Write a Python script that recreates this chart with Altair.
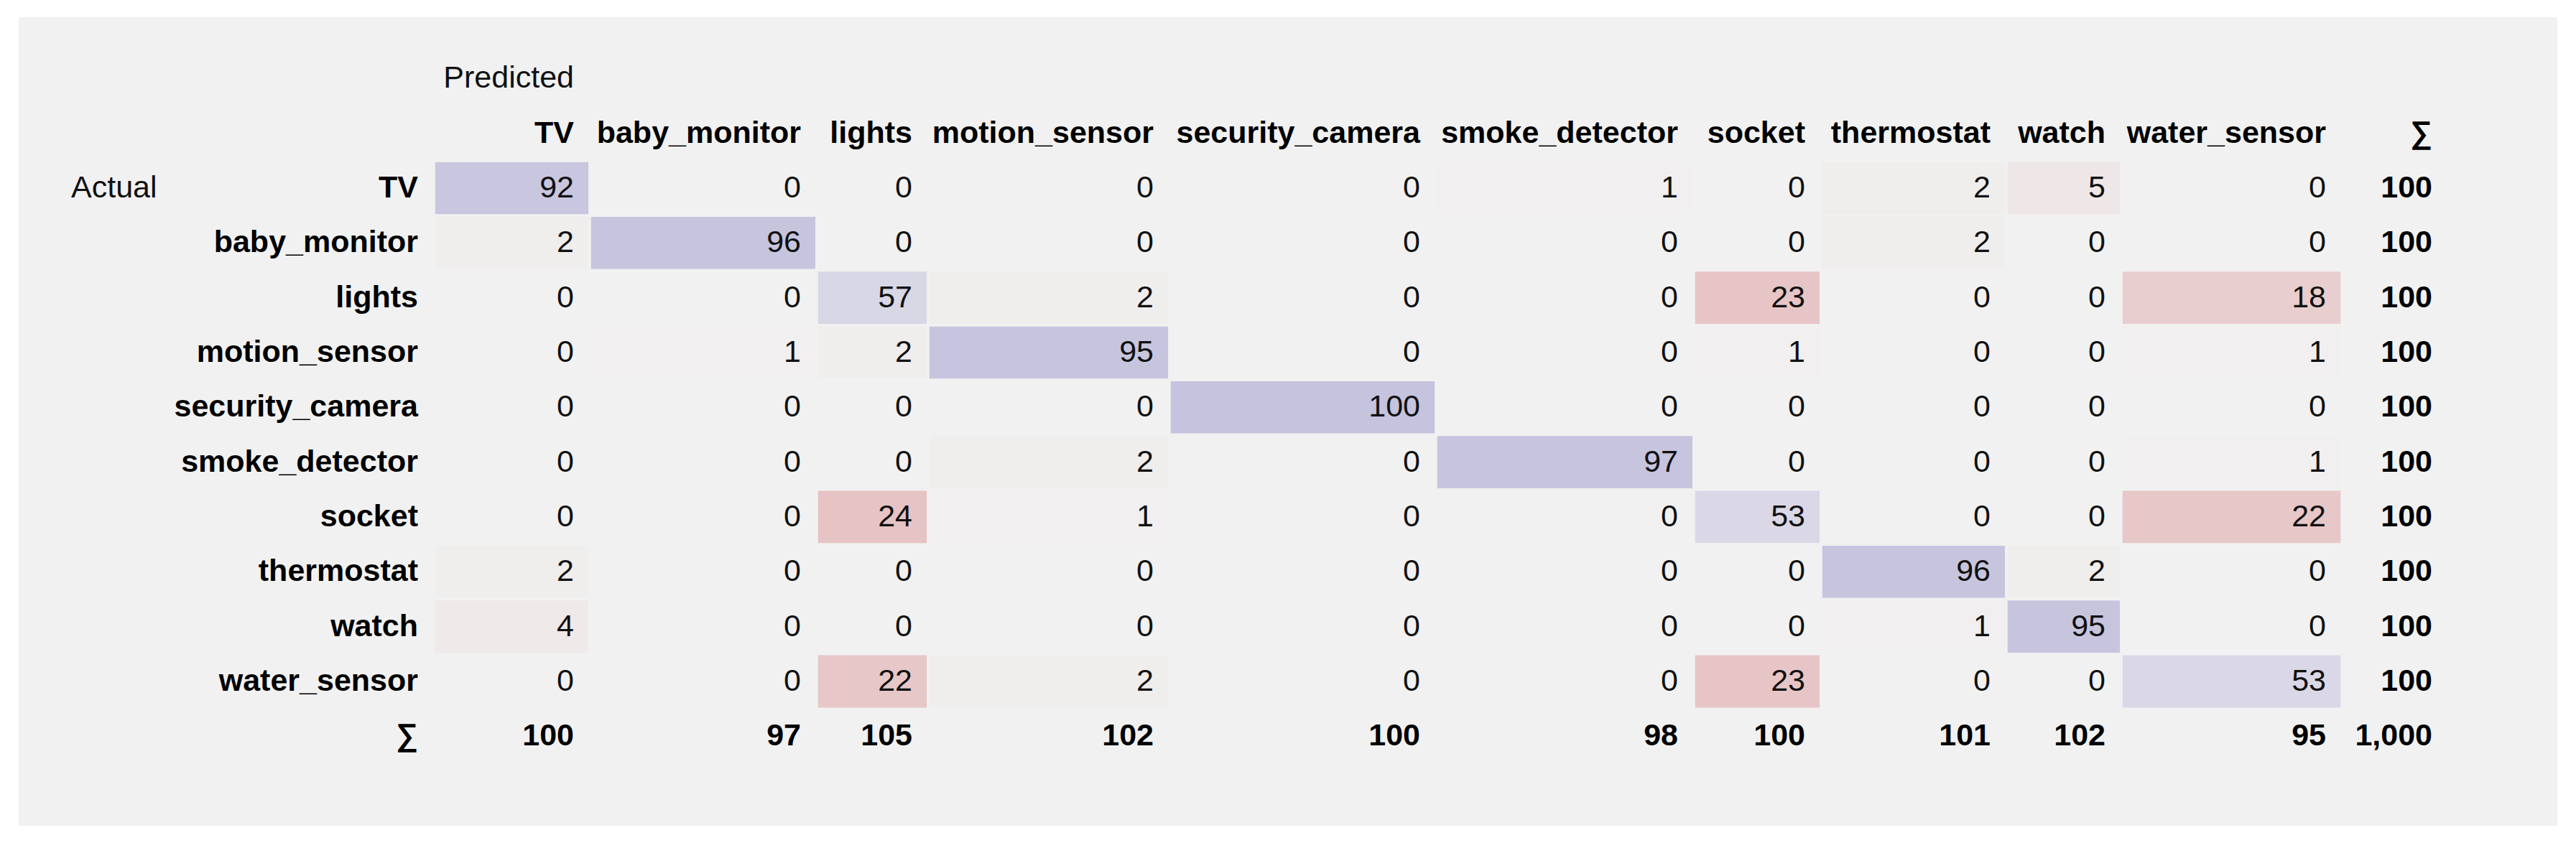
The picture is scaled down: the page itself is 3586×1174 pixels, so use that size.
import altair as alt
import pandas as pd

# ---------------- data ----------------
classes = ["TV", "baby_monitor", "lights", "motion_sensor", "security_camera",
           "smoke_detector", "socket", "thermostat", "watch", "water_sensor"]

row_TV              = [92, 0, 0, 0, 0, 1, 0, 2, 5, 0]
row_baby_monitor    = [2, 96, 0, 0, 0, 0, 0, 2, 0, 0]
row_lights          = [0, 0, 57, 2, 0, 0, 23, 0, 0, 18]
row_motion_sensor   = [0, 1, 2, 95, 0, 0, 1, 0, 0, 1]
row_security_camera = [0, 0, 0, 0, 100, 0, 0, 0, 0, 0]
row_smoke_detector  = [0, 0, 0, 2, 0, 97, 0, 0, 0, 1]
row_socket          = [0, 0, 24, 1, 0, 0, 53, 0, 0, 22]
row_thermostat      = [2, 0, 0, 0, 0, 0, 0, 96, 2, 0]
row_watch           = [4, 0, 0, 0, 0, 0, 0, 1, 95, 0]
row_water_sensor    = [0, 0, 22, 2, 0, 0, 23, 0, 0, 53]

matrix = [row_TV, row_baby_monitor, row_lights, row_motion_sensor, row_security_camera,
          row_smoke_detector, row_socket, row_thermostat, row_watch, row_water_sensor]

SUM = "\u2211"
pred_title = "Predicted"
actual_title = "Actual"

# ---------------- layout / style ----------------
panel_keys = ["idx"] + classes + ["sum", "pad"]
panel_widths = [577, 217, 316, 155, 336, 371, 359, 177, 258, 160, 307, 148, 151]
PANEL_H = 1124
FONT = "Liberation Sans, Arial, sans-serif"
FS = 43
BG = "#f1f1f1"
row_keys = ["_pred", "_head"] + classes + [SUM]

# ---------------- table records ----------------
df_m = pd.DataFrame(matrix, index=classes, columns=classes)
col_sums = df_m.sum(axis=0)
row_sums = df_m.sum(axis=1)
total = int(df_m.values.sum())

recs = []
def add(panel, row, label, bold=False, left=False, shade=None):
    recs.append(dict(panel=panel, row=row, label=label, bold=bold, left=left, shade=shade))

add("idx", "TV", actual_title, left=True)
for c in classes:
    add("idx", c, c, bold=True)
add("idx", SUM, SUM, bold=True)

for j, c in enumerate(classes):
    if j == 0:
        add(c, "_pred", pred_title)
    add(c, "_head", c, bold=True)
    for i, r in enumerate(classes):
        v = int(df_m.loc[r, c])
        add(c, r, str(v), shade=(v if i == j else -v))
    add(c, SUM, f"{int(col_sums[c]):,}", bold=True)

add("sum", "_head", SUM, bold=True)
for r in classes:
    add("sum", r, f"{int(row_sums[r]):,}", bold=True)
add("sum", SUM, f"{total:,}", bold=True)
add("pad", "_head", "")

df = pd.DataFrame(recs)

color_scale = alt.Scale(domain=[-24, 0, 100],
                        range=["#e6c3c4", BG, "#c5c3dd"], clamp=True)

def make_panel(key, width):
    base = alt.Chart(df).transform_filter(alt.datum.panel == key)
    xs = alt.Scale(paddingInner=0, paddingOuter=0)
    ys = alt.Scale(domain=row_keys, paddingInner=0, paddingOuter=0.8627, align=0.351)
    y = alt.Y("row:N", axis=None, scale=ys, sort=row_keys)
    rect = base.transform_filter("isValid(datum.shade)").mark_rect(
        stroke=BG, strokeWidth=3.5
    ).encode(
        x=alt.X("panel:N", axis=None, scale=xs),
        y=y,
        color=alt.Color("shade:Q", scale=color_scale, legend=None),
    )
    txt_reg = base.transform_filter("!datum.bold && !datum.left").mark_text(
        align="right", baseline="middle", dx=-22, font=FONT, fontSize=FS, color="#111111"
    ).encode(
        x=alt.X("panel:N", axis=None, scale=xs, bandPosition=1),
        y=y, text="label:N",
    )
    txt_bold = base.transform_filter("datum.bold").mark_text(
        align="right", baseline="middle", dx=-22, font=FONT, fontSize=FS,
        fontWeight="bold", color="#000000"
    ).encode(
        x=alt.X("panel:N", axis=None, scale=xs, bandPosition=1),
        y=y, text="label:N",
    )
    txt_left = base.transform_filter("datum.left").mark_text(
        align="left", baseline="middle", dx=72, font=FONT, fontSize=FS, color="#111111"
    ).encode(
        x=alt.X("panel:N", axis=None, scale=xs, bandPosition=0),
        y=y, text="label:N",
    )
    return alt.layer(rect, txt_reg, txt_bold, txt_left).properties(width=width, height=PANEL_H)

panels = [make_panel(k, w) for k, w in zip(panel_keys, panel_widths)]

chart = alt.hconcat(*panels, spacing=0, bounds="flush").properties(
    padding={"left": 18, "top": 16, "right": 0, "bottom": 0},
    background="white",
).configure_view(
    stroke=BG, strokeWidth=2, fill=BG
).configure_concat(spacing=0)

chart.save("out.html", embed_options={"renderer": "svg", "actions": False})
